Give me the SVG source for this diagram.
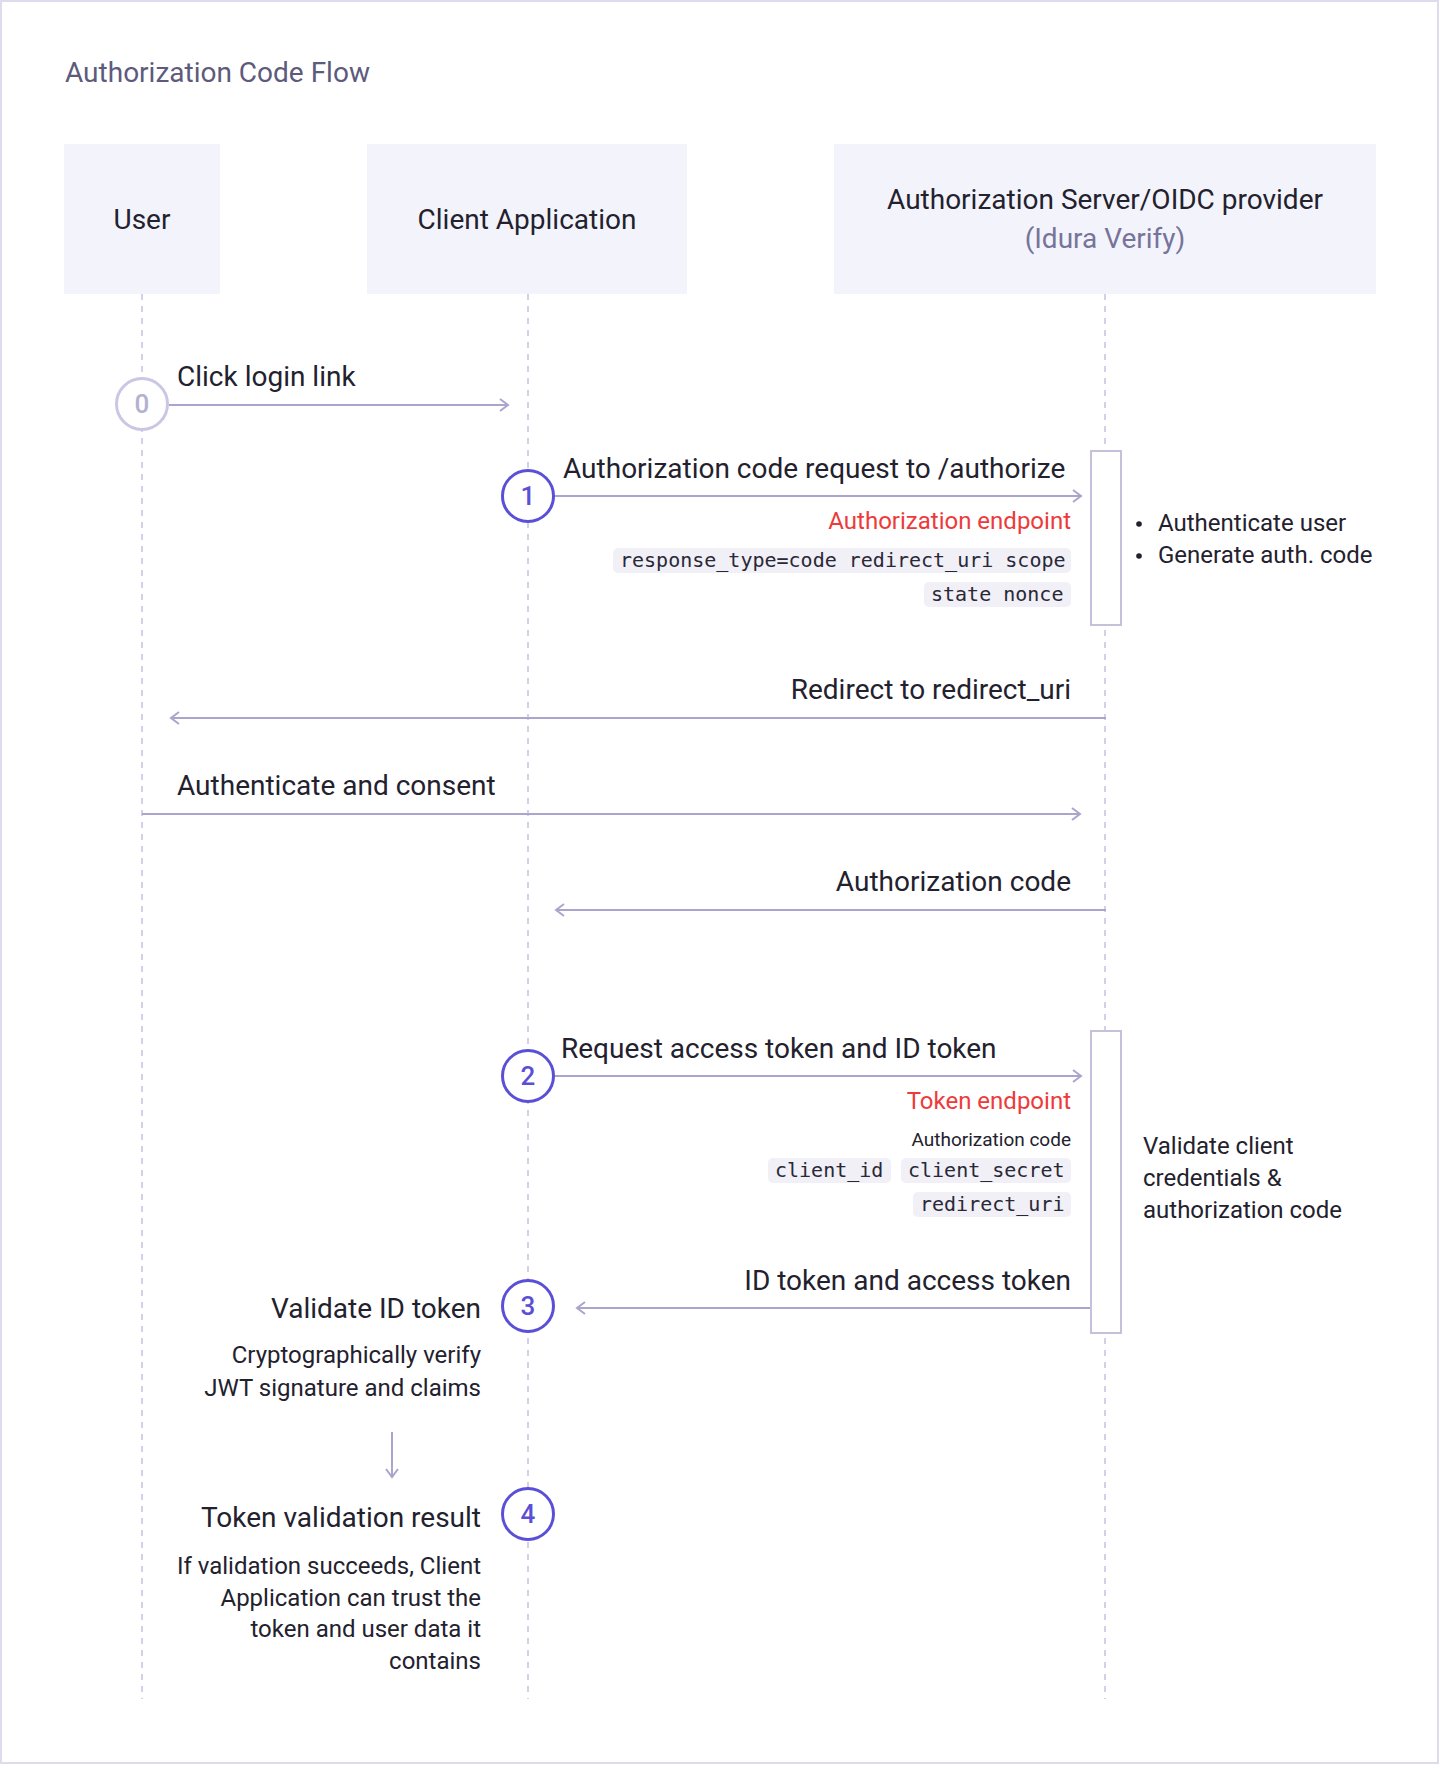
<svg xmlns="http://www.w3.org/2000/svg" width="1440" height="1772" viewBox="0 0 1440 1772">
  <style>
    .t { font-family: Roboto, "Liberation Sans", sans-serif; fill: #23212e; }
    .lg { font-size: 28px; }
    .sm { font-size: 24px; }
    .xs { font-size: 19px; }
    .title { font-family: Roboto, "Liberation Sans", sans-serif; font-size: 28px; fill: #5d5a7c; }
    .sub { fill: #77739a; }
    .red { fill: #ee3a3a; }
    .end { text-anchor: end; }
    .mid { text-anchor: middle; }
    .mono { font-family: "DejaVu Sans Mono", "Liberation Mono", monospace; font-size: 20px; fill: #2a2836; }
    .chip { fill: #f0f0f6; }
    .hdr { fill: #f3f4fb; }
    .life { stroke: #d3d1e8; stroke-width: 2; stroke-dasharray: 6 6; fill: none; }
    .msg { stroke: #a9a5cc; stroke-width: 2; fill: none; }
    .act { fill: #ffffff; stroke: #c4c1dd; stroke-width: 2; }
    .step { fill: #ffffff; stroke: #5a4fd6; stroke-width: 3; }
    .stepn { font-family: Roboto, "Liberation Sans", sans-serif; font-size: 26px; font-weight: 500; fill: #5a4fd6; text-anchor: middle; }
    .step0 { fill: #ffffff; stroke: #c9c7e3; stroke-width: 3; }
    .stepn0 { font-family: Roboto, "Liberation Sans", sans-serif; font-size: 26px; font-weight: 500; fill: #b3b1d2; text-anchor: middle; }
  </style>
  <defs>
    <marker id="arr" viewBox="-10 -8 12 16" markerWidth="12" markerHeight="16" refX="0" refY="0" orient="auto" markerUnits="userSpaceOnUse">
      <path d="M-8,-6 L0,0 L-8,6" fill="none" stroke="#a9a5cc" stroke-width="2"/>
    </marker>
  </defs>

  <rect x="1" y="1" width="1437" height="1762" fill="#ffffff" stroke="#dddcef" stroke-width="2"/>
  <text class="title" x="65" y="82">Authorization Code Flow</text>

  <g id="lifelines">
    <line class="life" x1="142" y1="294" x2="142" y2="1699"/>
    <line class="life" x1="528" y1="294" x2="528" y2="1699"/>
    <line class="life" x1="1105" y1="294" x2="1105" y2="1699"/>
  </g>

  <g id="node-user">
    <rect class="hdr" x="64" y="144" width="156" height="150"/>
    <text class="t lg mid" x="142" y="229">User</text>
  </g>
  <g id="node-client">
    <rect class="hdr" x="367" y="144" width="320" height="150"/>
    <text class="t lg mid" x="527" y="229">Client Application</text>
  </g>
  <g id="node-server">
    <rect class="hdr" x="834" y="144" width="542" height="150"/>
    <text class="t lg mid" x="1105" y="209">Authorization Server/OIDC provider</text>
    <text class="t lg mid sub" x="1105" y="248">(Idura Verify)</text>
  </g>

  <g id="connectors">
    <line class="msg" x1="169" y1="405" x2="508" y2="405" marker-end="url(#arr)"/>
    <line class="msg" x1="555" y1="496" x2="1081" y2="496" marker-end="url(#arr)"/>
    <line class="msg" x1="1106" y1="718" x2="171" y2="718" marker-end="url(#arr)"/>
    <line class="msg" x1="142" y1="814" x2="1080" y2="814" marker-end="url(#arr)"/>
    <line class="msg" x1="1106" y1="910" x2="556" y2="910" marker-end="url(#arr)"/>
    <line class="msg" x1="555" y1="1076" x2="1081" y2="1076" marker-end="url(#arr)"/>
    <line class="msg" x1="1091" y1="1308" x2="577" y2="1308" marker-end="url(#arr)"/>
    <line class="msg" x1="392" y1="1432" x2="392" y2="1477" marker-end="url(#arr)"/>
  </g>

  <g id="activation-1">
    <rect class="act" x="1091" y="451" width="30" height="174"/>
    <circle cx="1139" cy="524" r="2.8" fill="#23212e"/>
    <circle cx="1139" cy="556" r="2.8" fill="#23212e"/>
    <text class="t sm" x="1158" y="531">Authenticate user</text>
    <text class="t sm" x="1158" y="563">Generate auth. code</text>
  </g>
  <g id="activation-2">
    <rect class="act" x="1091" y="1031" width="30" height="302"/>
    <text class="t sm" x="1143" y="1154">Validate client</text>
    <text class="t sm" x="1143" y="1186">credentials &amp;</text>
    <text class="t sm" x="1143" y="1218">authorization code</text>
  </g>

  <g id="msg-0">
    <circle class="step0" cx="142" cy="404" r="25.5"/>
    <text class="stepn0" x="142" y="413">0</text>
    <text class="t lg" x="177" y="386">Click login link</text>
  </g>

  <g id="msg-1">
    <circle class="step" cx="528" cy="496" r="25.5"/>
    <text class="stepn" x="528" y="505">1</text>
    <text class="t lg" x="563" y="478">Authorization code request to /authorize</text>
    <text class="t sm red end" x="1071" y="529">Authorization endpoint</text>
    <rect class="chip" x="613" y="548" width="458" height="25" rx="5"/>
    <text class="mono" x="620" y="567">response_type=code redirect_uri scope</text>
    <rect class="chip" x="924" y="582" width="147" height="25" rx="5"/>
    <text class="mono" x="931" y="601">state nonce</text>
  </g>

  <g id="msg-redirect">
    <text class="t lg end" x="1071" y="699">Redirect to redirect_uri</text>
  </g>
  <g id="msg-authenticate">
    <text class="t lg" x="177" y="795">Authenticate and consent</text>
  </g>
  <g id="msg-code">
    <text class="t lg end" x="1071" y="891">Authorization code</text>
  </g>

  <g id="msg-2">
    <circle class="step" cx="528" cy="1076" r="25.5"/>
    <text class="stepn" x="528" y="1085">2</text>
    <text class="t lg" x="561" y="1058">Request access token and ID token</text>
    <text class="t sm red end" x="1071" y="1109">Token endpoint</text>
    <text class="t xs end" x="1071" y="1146">Authorization code</text>
    <rect class="chip" x="768" y="1158" width="123" height="25" rx="5"/>
    <text class="mono" x="775" y="1177">client_id</text>
    <rect class="chip" x="901" y="1158" width="170" height="25" rx="5"/>
    <text class="mono" x="908" y="1177">client_secret</text>
    <rect class="chip" x="913" y="1192" width="158" height="25" rx="5"/>
    <text class="mono" x="920" y="1211">redirect_uri</text>
  </g>

  <g id="msg-3">
    <text class="t lg end" x="1071" y="1290">ID token and access token</text>
    <circle class="step" cx="528" cy="1306" r="25.5"/>
    <text class="stepn" x="528" y="1315">3</text>
    <text class="t lg end" x="481" y="1318">Validate ID token</text>
    <text class="t sm end" x="481" y="1363">Cryptographically verify</text>
    <text class="t sm end" x="481" y="1396">JWT signature and claims</text>
  </g>

  <g id="step-4">
    <circle class="step" cx="528" cy="1514" r="25.5"/>
    <text class="stepn" x="528" y="1523">4</text>
    <text class="t lg end" x="481" y="1527">Token validation result</text>
    <text class="t sm end" x="481" y="1574">If validation succeeds, Client</text>
    <text class="t sm end" x="481" y="1606">Application can trust the</text>
    <text class="t sm end" x="481" y="1637">token and user data it</text>
    <text class="t sm end" x="481" y="1669">contains</text>
  </g>
</svg>
